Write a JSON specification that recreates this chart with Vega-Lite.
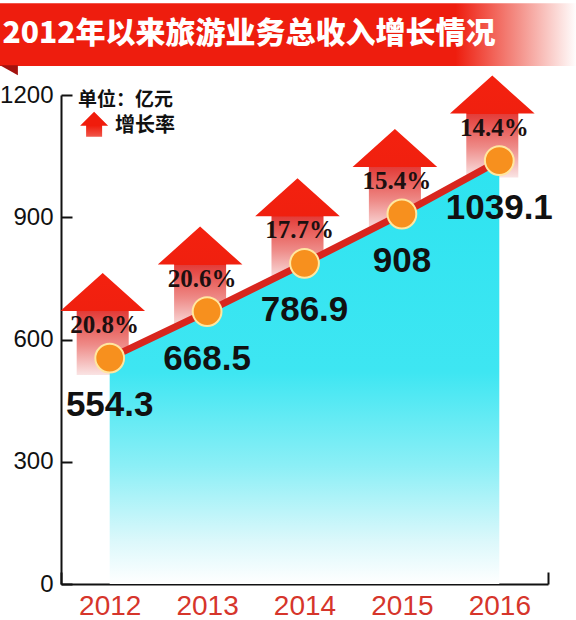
{
  "$schema": "https://vega.github.io/schema/vega-lite/v6.json",
  "width": 487,
  "height": 489,
  "autosize": "none",
  "padding": {"left": 61, "top": 95, "right": 28, "bottom": 36},
  "background": "white",
  "config": {"view": {"stroke": null}},
  "resolve": {"scale": {"x": "independent", "y": "independent"}},
  "layer": [
    {
      "data": {"values": [{}]},
      "layer": [
        {
          "mark": {
            "type": "rect",
            "color": {
              "gradient": "linear", "x1": 0, "y1": 0, "x2": 1, "y2": 0,
              "stops": [
                {"offset": 0, "color": "#ee1d0e"},
                {"offset": 0.79, "color": "#ee1d0e"},
                {"offset": 0.9, "color": "#f4928a"},
                {"offset": 1, "color": "#ffffff"}
              ]
            }
          },
          "encoding": {
            "x": {"datum": -13, "type": "quantitative", "scale": {"domain": [0, 100]}, "axis": null},
            "x2": {"datum": 106},
            "y": {"datum": 1271, "type": "quantitative", "scale": {"domain": [0, 1200], "nice": false}, "axis": null},
            "y2": {"datum": 1425}
          }
        },
        {
          "mark": {"type": "point", "shape": "M-1,-0.556 L1,-0.556 L1,0.556 Z", "size": 324, "filled": true, "fill": "#a3120e", "opacity": 1, "strokeWidth": 0},
          "encoding": {
            "x": {"datum": -10.7, "type": "quantitative", "scale": {"domain": [0, 100]}, "axis": null},
            "y": {"datum": 1261, "type": "quantitative", "scale": {"domain": [0, 1200], "nice": false}, "axis": null}
          }
        },
        {
          "mark": {"type": "text", "text": "2012年以来旅游业务总收入增长情况", "font": "Noto Sans CJK SC", "fontWeight": 900, "fontSize": 30, "color": "#ffffff", "align": "center", "baseline": "middle"},
          "encoding": {
            "x": {"datum": 38.6, "type": "quantitative", "scale": {"domain": [0, 100]}, "axis": null},
            "y": {"datum": 1350, "type": "quantitative", "scale": {"domain": [0, 1200], "nice": false}, "axis": null}
          }
        },
        {
          "mark": {"type": "text", "text": "单位：亿元", "font": "Noto Sans CJK SC", "fontWeight": "bold", "fontSize": 19, "color": "#111111", "align": "left", "baseline": "middle"},
          "encoding": {
            "x": {"datum": 3.5, "type": "quantitative", "scale": {"domain": [0, 100]}, "axis": null},
            "y": {"datum": 1188, "type": "quantitative", "scale": {"domain": [0, 1200], "nice": false}, "axis": null}
          }
        },
        {
          "mark": {"type": "text", "text": "增长率", "font": "Noto Sans CJK SC", "fontWeight": "bold", "fontSize": 20, "color": "#111111", "align": "left", "baseline": "middle"},
          "encoding": {
            "x": {"datum": 11.1, "type": "quantitative", "scale": {"domain": [0, 100]}, "axis": null},
            "y": {"datum": 1124, "type": "quantitative", "scale": {"domain": [0, 1200], "nice": false}, "axis": null}
          }
        },
        {
          "mark": {
            "type": "point",
            "shape": "M0,-1 L1.12,0.12 L0.64,0.12 L0.64,1 L-0.64,1 L-0.64,0.12 L-1.12,0.12 Z",
            "size": 625, "filled": true, "opacity": 1, "strokeWidth": 0,
            "fill": {
              "gradient": "linear", "x1": 0, "y1": 0, "x2": 0, "y2": 1,
              "stops": [
                {"offset": 0, "color": "#f01c0c"},
                {"offset": 0.55, "color": "#f01c0c"},
                {"offset": 1, "color": "#f0584c"}
              ]
            }
          },
          "encoding": {
            "x": {"datum": 6.8, "type": "quantitative", "scale": {"domain": [0, 100]}, "axis": null},
            "y": {"datum": 1128, "type": "quantitative", "scale": {"domain": [0, 1200], "nice": false}, "axis": null}
          }
        }
      ]
    },
    {
      "data": {
        "values": [
          {"year": "2012", "revenue": 554.3, "growth": 0.208},
          {"year": "2013", "revenue": 668.5, "growth": 0.206},
          {"year": "2014", "revenue": 786.9, "growth": 0.177},
          {"year": "2015", "revenue": 908, "growth": 0.154},
          {"year": "2016", "revenue": 1039.1, "growth": 0.144}
        ]
      },
      "encoding": {
        "x": {
          "field": "year", "type": "ordinal",
          "scale": {"type": "band", "paddingInner": 0, "paddingOuter": 0},
          "axis": {
            "title": null, "tickBand": "extent", "labelAngle": 0,
            "domainColor": "#111111", "domainWidth": 2,
            "tickColor": "#111111", "tickWidth": 2, "tickSize": -12,
            "labelPadding": 20, "labelFont": "Liberation Sans", "labelFontSize": 28, "labelColor": "#d6352b"
          }
        },
        "y": {
          "field": "revenue", "type": "quantitative",
          "scale": {"domain": [0, 1200], "nice": false},
          "axis": {
            "title": null, "values": [0, 300, 600, 900, 1200], "format": "d", "grid": false,
            "domainColor": "#111111", "domainWidth": 2,
            "tickColor": "#111111", "tickWidth": 2, "tickSize": -11,
            "labelPadding": 19, "labelFont": "Liberation Sans", "labelFontSize": 24, "labelColor": "#111111"
          }
        }
      },
      "layer": [
        {
          "mark": {
            "type": "point",
            "shape": "M0,-1 L0.83,-0.255 L0.51,-0.255 L0.51,1 L-0.51,1 L-0.51,-0.255 L-0.83,-0.255 Z",
            "size": 10404, "filled": true, "opacity": 1, "strokeWidth": 0,
            "xOffset": -7, "yOffset": -34,
            "fill": {
              "gradient": "linear", "x1": 0, "y1": 0, "x2": 0, "y2": 1,
              "stops": [
                {"offset": 0, "color": "#f4210f"},
                {"offset": 0.372, "color": "#f0200f"},
                {"offset": 0.376, "color": "#e33c38"},
                {"offset": 0.7, "color": "#ee8a87"},
                {"offset": 1, "color": "#fae4e4"}
              ]
            }
          }
        },
        {
          "mark": {
            "type": "area",
            "color": {
              "gradient": "linear", "x1": 0, "y1": 0, "x2": 0, "y2": 1,
              "stops": [
                {"offset": 0, "color": "#2de3f0"},
                {"offset": 0.5, "color": "#3ee6f2"},
                {"offset": 0.72, "color": "#8befF6"},
                {"offset": 0.9, "color": "#dcf8fb"},
                {"offset": 1, "color": "#ffffff"}
              ]
            }
          }
        },
        {
          "mark": {"type": "line", "color": "#d8261e", "strokeWidth": 7}
        },
        {
          "mark": {"type": "text", "font": "Liberation Serif, DejaVu Serif, Times New Roman, serif", "fontWeight": "bold", "fontSize": 25, "color": "#1c1010", "dx": -5, "dy": -33, "baseline": "middle", "align": "center"},
          "encoding": {"text": {"field": "growth", "type": "quantitative", "format": ".1%"}}
        },
        {
          "mark": {"type": "point", "shape": "circle", "size": 830, "filled": true, "fill": "#f7901e", "stroke": "#ffe7a0", "strokeWidth": 2, "opacity": 1}
        },
        {
          "mark": {"type": "text", "font": "Liberation Sans", "fontWeight": "bold", "fontSize": 35, "color": "#111111", "dy": 47, "baseline": "middle", "align": "center"},
          "encoding": {"text": {"field": "revenue", "type": "quantitative"}}
        }
      ]
    }
  ]
}
